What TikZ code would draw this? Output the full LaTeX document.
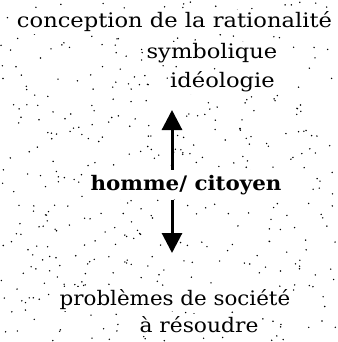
\documentclass[tikz,border=0pt]{standalone}
\usepackage{fontspec}
\setmainfont{DejaVu Serif}
\usetikzlibrary{arrows.meta}
\newcommand{\wide}[2]{\scalebox{#1}[1]{#2}}
\tikzset{
  lbl/.style={anchor=base, inner sep=2pt, fill=white, font=\fontsize{20}{24}\selectfont},
  arr/.style={line width=3pt, -{Triangle[width=20pt,length=20pt]}},
  dot/.style={fill=black}
}
\begin{document}
\begin{tikzpicture}[x=1pt,y=-1pt]
\useasboundingbox (0,0) rectangle (337,342);
\pgfmathsetseed{7}
\foreach \i in {1,...,520} {
  \pgfmathsetmacro\rx{rnd*335+1}
  \pgfmathsetmacro\ry{rnd*340+1}
  \fill[dot] (\rx,\ry) circle[radius=0.8pt];
}
\node[lbl] (t1) at (174.5,28) {\wide{1.13}{conception de la rationalité}};
\node[lbl] (t2) at (212,59) {\wide{1.13}{symbolique}};
\node[lbl] (t3) at (222.5,88) {\wide{1.13}{idéologie}};
\node[lbl, font=\fontsize{20}{24}\selectfont\bfseries, inner sep=5pt] (hom) at (186,190) {\wide{1.07}{homme/ citoyen}};
\node[lbl] (t4) at (175,305) {\wide{1.07}{problèmes de société}};
\node[lbl] (t5) at (199,332) {\wide{1.09}{à résoudre}};
\coordinate (top) at (172,110);
\coordinate (bot) at (172,253);
\draw[arr] (hom.north -| top) -- (top);
\draw[arr] (hom.south -| bot) -- (bot);
\end{tikzpicture}
\end{document}
